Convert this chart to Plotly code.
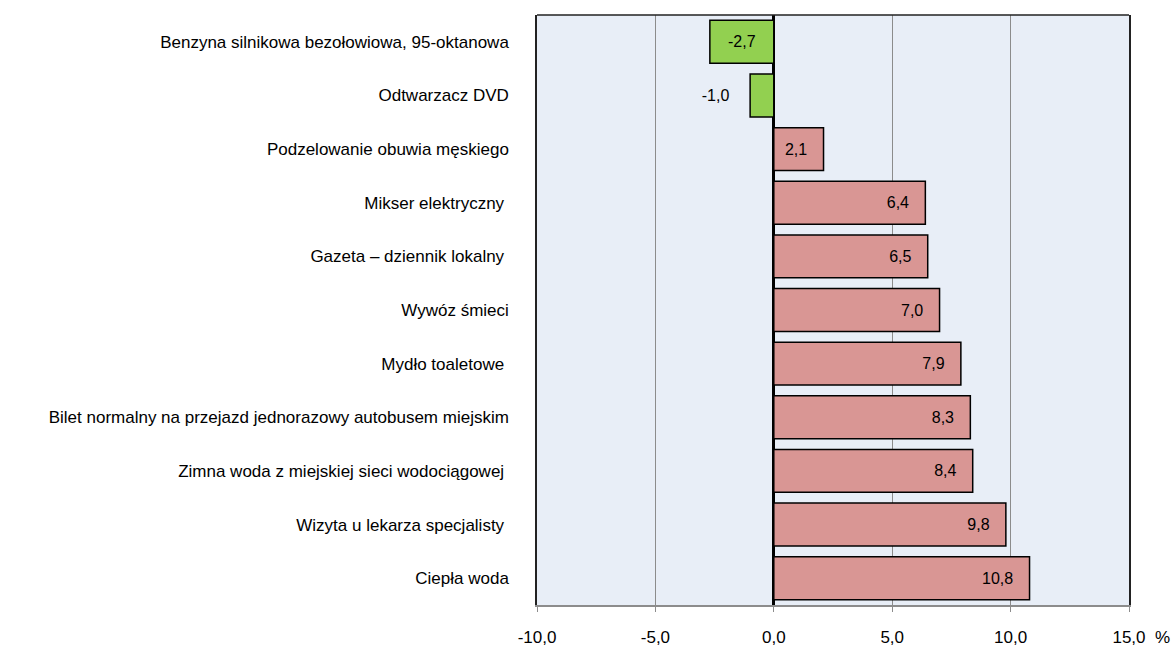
import plotly.graph_objects as go

categories = [
    "Benzyna silnikowa bezołowiowa, 95-oktanowa",
    "Odtwarzacz DVD",
    "Podzelowanie obuwia męskiego",
    "Mikser elektryczny ",
    "Gazeta – dziennik lokalny ",
    "Wywóz śmieci",
    "Mydło toaletowe ",
    "Bilet normalny na przejazd jednorazowy autobusem miejskim",
    "Zimna woda z miejskiej sieci wodociągowej ",
    "Wizyta u lekarza specjalisty ",
    "Ciepła woda",
]
values = [-2.7, -1.0, 2.1, 6.4, 6.5, 7.0, 7.9, 8.3, 8.4, 9.8, 10.8]
tick_vals = [-10, -5, 0, 5, 10, 15]
tick_text = ["-10,0", "-5,0", "0,0", "5,0", "10,0", "15,0"]

FONT = "Liberation Sans, Arial"
FS = 16
FS_CAT = 17
NB = "\u00a0"

def fmt(v):
    return f"{v:.1f}".replace(".", ",")

neg_idx = [i for i, v in enumerate(values) if v < 0]
pos_idx = [i for i, v in enumerate(values) if v >= 0]

fig = go.Figure()
fig.add_trace(go.Bar(
    y=[categories[i] for i in neg_idx],
    x=[values[i] for i in neg_idx],
    orientation="h",
    marker=dict(color="#92D050", line=dict(color="black", width=1.5)),
    text=[fmt(values[i]) if abs(values[i]) > 2 else fmt(values[i]) + NB * 4 for i in neg_idx],
    textposition=["inside" if abs(values[i]) > 2 else "outside" for i in neg_idx],
    insidetextanchor="middle",
    textfont=dict(color="black", size=FS, family=FONT),
    cliponaxis=False,
    width=0.8,
    showlegend=False,
))
fig.add_trace(go.Bar(
    y=[categories[i] for i in pos_idx],
    x=[values[i] for i in pos_idx],
    orientation="h",
    marker=dict(color="#D99694", line=dict(color="black", width=1.5)),
    text=[fmt(values[i]) + NB * 3 for i in pos_idx],
    textposition="inside",
    insidetextanchor="end",
    textfont=dict(color="black", size=FS, family=FONT),
    width=0.8,
    showlegend=False,
))

fig.update_layout(
    width=1172, height=646,
    margin=dict(l=537, r=43, t=15, b=41, autoexpand=False),
    plot_bgcolor="#E8EEF7",
    paper_bgcolor="white",
    font=dict(family=FONT, size=FS, color="black"),
    barmode="overlay",
    xaxis=dict(
        range=[-10, 15],
        tickvals=tick_vals,
        ticktext=tick_text,
        showgrid=True, gridcolor="#8C8C8C", gridwidth=1,
        zeroline=True, zerolinecolor="black", zerolinewidth=3,
        showline=True, linecolor="#8C8C8C", linewidth=1.5, mirror=False,
        ticks="outside", tickcolor="#8C8C8C", ticklen=5,
        ticklabelstandoff=11,
        tickfont=dict(size=17),
    ),
    yaxis=dict(
        categoryorder="array",
        categoryarray=categories[::-1],
        autorange=False,
        range=[-0.5, len(categories) - 0.5],
        showgrid=False,
        showline=True, linecolor="#222222", linewidth=1.5, mirror=True,
        ticks="",
        ticklabelstandoff=23,
        tickfont=dict(size=FS_CAT),
    ),
    shapes=[dict(
        type="line", xref="paper", yref="paper",
        x0=0, x1=1, y0=1, y1=1,
        line=dict(color="#222222", width=1.5),
    )],
    annotations=[dict(
        x=1.0, y=0, xref="paper", yref="paper",
        xanchor="left", yanchor="middle",
        xshift=24, yshift=-32,
        text="%", showarrow=False,
        font=dict(size=17),
    )],
)

fig.write_html(
    "out.html",
    config={"displayModeBar": False},
    post_script="document.body.style.margin='0';document.body.style.overflow='hidden';",
)
